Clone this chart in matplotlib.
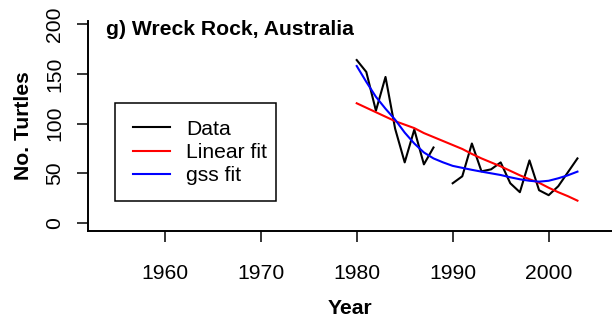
import matplotlib
matplotlib.use('Agg')
import matplotlib.pyplot as plt
from matplotlib.patches import Rectangle

# Nesting counts, Wreck Rock (1989 missing)
years_a = [1980, 1981, 1982, 1983, 1984, 1985, 1986, 1987, 1988]
turtles_a = [164, 152, 113, 147, 95, 61, 94, 59, 76]
years_b = [1990, 1991, 1992, 1993, 1994, 1995, 1996, 1997, 1998, 1999, 2000, 2001, 2002, 2003]
turtles_b = [40, 47, 80, 52, 54, 61, 40, 31, 63, 33, 28, 37, 51, 65]

fit_years = list(range(1980, 2004))
linear_fit = [120.5, 116, 111.5, 107, 102.5, 99, 95.5, 90.5, 86.5, 82.5, 78.5, 74.5,
              69.5, 65, 61, 57, 52.5, 48, 44, 40.5, 35.5, 31, 27, 22.5]
gss_fit = [158, 142, 127, 115, 104, 91, 80, 71, 65, 61, 57.5, 55.5,
           53.5, 51.7, 50, 48.3, 46, 44, 42.5, 41.6, 42.5, 45, 48, 51.7]

x_ticks = [1960, 1970, 1980, 1990, 2000]
y_ticks = [0, 50, 100, 150, 200]

FONT = 'Liberation Sans'
FS = 15.2

plt.rcParams['font.family'] = FONT
fig = plt.figure(figsize=(6.12, 3.2), dpi=100, facecolor='w')
ax = fig.add_axes([88 / 612, (320 - 230.5) / 320, 524 / 612, 209.8 / 320])

h_data, = ax.plot(years_a, turtles_a, color='black', lw=1.5)
ax.plot(years_b, turtles_b, color='black', lw=1.5)
h_lin, = ax.plot(fit_years, linear_fit, color='#ff0000', lw=1.5)
h_gss, = ax.plot(fit_years, gss_fit, color='#0000ff', lw=1.5)

ax.set_xlim(1952, 2006.6)
ax.set_ylim(-7.55, 203.6)
ax.set_xticks(x_ticks)
ax.set_yticks(y_ticks)

for side in ['top', 'right']:
    ax.spines[side].set_visible(False)
for side in ['left', 'bottom']:
    ax.spines[side].set_linewidth(1.4)

ax.tick_params(axis='both', length=8, width=1.1, labelsize=FS, color='black')
ax.tick_params(axis='x', pad=16)
ax.tick_params(axis='y', pad=9, labelrotation=90)
for lab in ax.get_yticklabels():
    lab.set_va('center')

ax.set_xlabel('Year', fontsize=FS, fontweight='bold', labelpad=12)
ax.set_ylabel('No. Turtles', fontsize=FS, fontweight='bold', labelpad=9)

ax.text(1953.9, 194.3, 'g) Wreck Rock, Australia', fontsize=FS, fontweight='bold',
        ha='left', va='center')

# legend frame drawn separately so it can be sized freely
ax.add_patch(Rectangle((27 / 524, 0.1406), 161 / 524, 0.466, transform=ax.transAxes,
                       fill=False, edgecolor='black', lw=1.1, zorder=5))
leg = ax.legend([h_data, h_lin, h_gss], ['Data', 'Linear fit', 'gss fit'], loc='upper left',
                bbox_to_anchor=(45 / 524, 0.528), frameon=False, fontsize=FS,
                handlelength=1.75, handletextpad=0.75, labelspacing=0.2, borderpad=0,
                borderaxespad=0)

fig.savefig('out.png', dpi=100)
